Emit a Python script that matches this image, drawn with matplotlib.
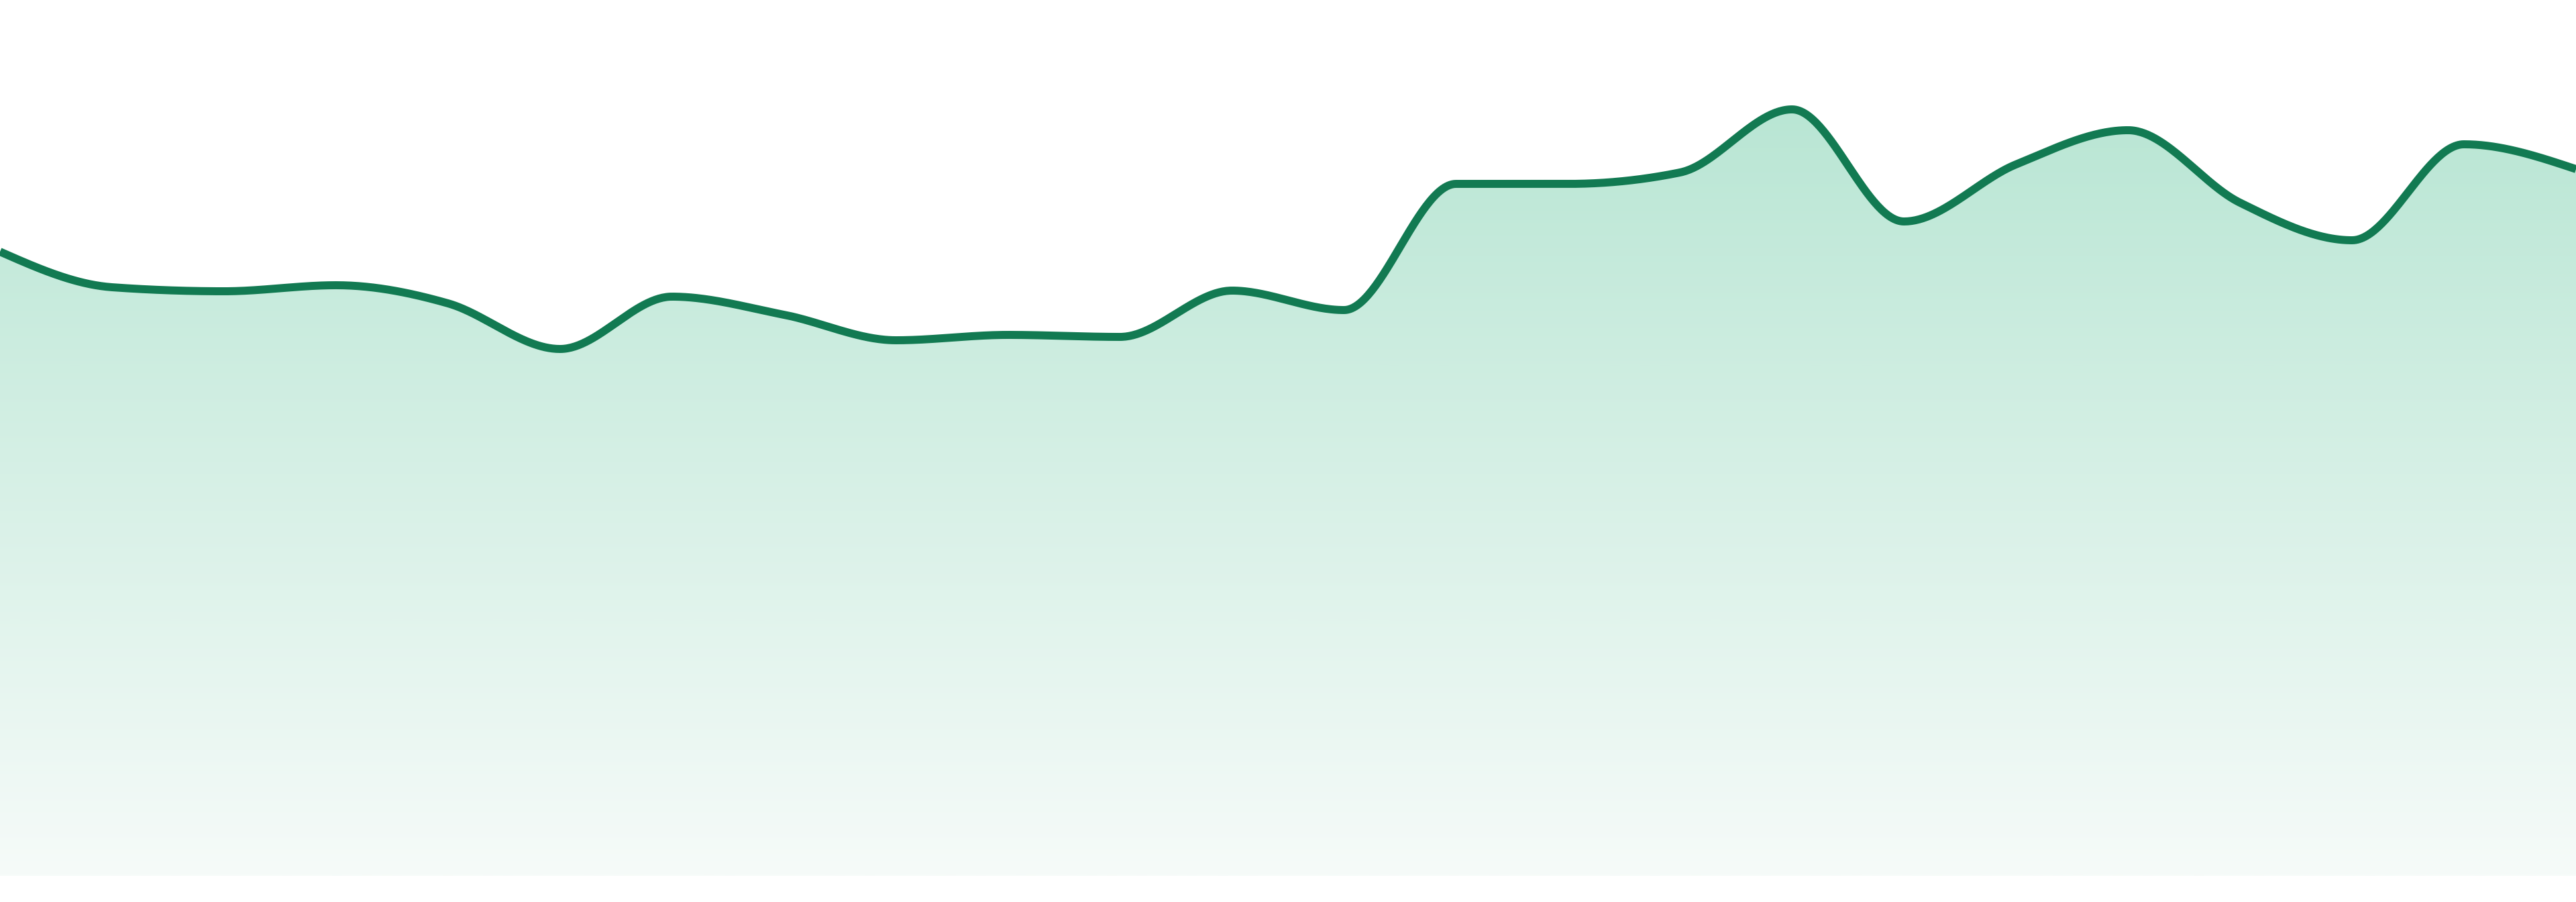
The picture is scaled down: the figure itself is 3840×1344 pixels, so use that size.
import numpy as np
import matplotlib
matplotlib.use('Agg')
import matplotlib.pyplot as plt
from matplotlib.colors import LinearSegmentedColormap

# Данные: 24 равномерно расположенных точки
points = list(range(24))
values = [93.0, 87.7, 87.1, 88.0, 85.3, 78.5, 86.3, 83.6, 79.8, 80.6, 80.3, 87.2,
          84.3, 103.1, 103.1, 104.8, 114.2, 97.5, 106.0, 111.1, 100.3, 94.7, 109.0, 105.3]

LINE_COLOR = '#127a52'
FILL_TOP = '#b9e6d4'
FILL_BOTTOM = '#f6fbf9'


def monotone_x(xs, ys, steps=60):
    """Кривая как d3.curveMonotoneX (кубический Эрмит с монотонными наклонами)."""
    xs = np.asarray(xs, dtype=float)
    ys = np.asarray(ys, dtype=float)
    n = len(xs)
    h = np.diff(xs)
    s = np.diff(ys) / h
    t = np.zeros(n)
    for i in range(1, n - 1):
        h0, h1 = h[i - 1], h[i]
        s0, s1 = s[i - 1], s[i]
        p = (s0 * h1 + s1 * h0) / (h0 + h1)
        t[i] = (np.sign(s0) + np.sign(s1)) * min(abs(s0), abs(s1), 0.5 * abs(p))
    t[0] = (3 * s[0] - t[1]) / 2
    t[-1] = (3 * s[-1] - t[-2]) / 2

    out_x, out_y = [], []
    for i in range(n - 1):
        u = np.linspace(0, 1, steps, endpoint=(i == n - 2))
        dx = h[i]
        h00 = 2 * u**3 - 3 * u**2 + 1
        h10 = u**3 - 2 * u**2 + u
        h01 = -2 * u**3 + 3 * u**2
        h11 = u**3 - u**2
        out_x.append(xs[i] + u * dx)
        out_y.append(h00 * ys[i] + h10 * dx * t[i] + h01 * ys[i + 1] + h11 * dx * t[i + 1])
    return np.concatenate(out_x), np.concatenate(out_y)


fig = plt.figure(figsize=(38.4, 13.44), dpi=100)
fig.patch.set_facecolor('white')
ax = fig.add_axes([0, 39 / 1344, 1, 1305 / 1344])
ax.axis('off')

cx, cy = monotone_x(points, values)

# заливка с вертикальным градиентом, обрезанная по области под кривой
area = ax.fill_between(cx, cy, 0, facecolor='none', edgecolor='none')
cmap = LinearSegmentedColormap.from_list('fade', [FILL_BOTTOM, FILL_TOP])
grad = np.linspace(0, 1, 512).reshape(-1, 1)
img = ax.imshow(grad, cmap=cmap, aspect='auto', origin='lower',
                extent=[points[0], points[-1], 0, max(values)],
                interpolation='bilinear', zorder=1)
img.set_clip_path(area.get_paths()[0], transform=ax.transData)

ax.plot(cx, cy, color=LINE_COLOR, linewidth=8.6, solid_capstyle='butt',
        solid_joinstyle='round', zorder=3, clip_on=False)

# imshow меняет пределы осей — задаём их после
ax.set_xlim(points[0], points[-1])
ax.set_ylim(0, 130.5)

plt.savefig('out.png', dpi=100, facecolor='white')
plt.close()
